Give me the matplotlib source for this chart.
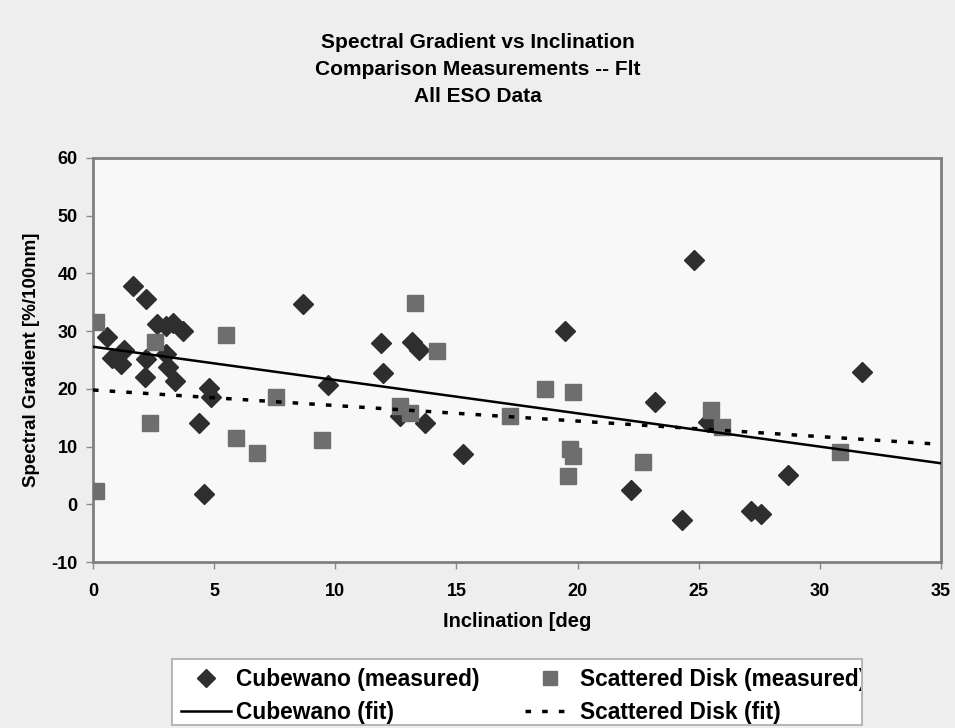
import numpy as np
import matplotlib.pyplot as plt
from matplotlib.patches import Rectangle
from matplotlib.transforms import Bbox, TransformedBbox

plt.rcParams['font.family'] = ['Liberation Sans', 'DejaVu Sans']
plt.rcParams['font.weight'] = 'bold'
plt.rcParams['axes.unicode_minus'] = False

# Cubewano (measured)
cub_inc = [1.67, 2.2, 2.63, 3.0, 3.3, 3.7, 0.59, 1.28, 0.8, 1.14, 2.18, 3.03, 3.08, 2.15,
           3.38, 4.8, 4.87, 4.36, 4.59, 8.66, 9.69, 11.87, 11.97, 13.18, 13.46, 12.66,
           13.7, 15.28, 19.5, 22.2, 24.82, 23.21, 31.72, 24.29, 25.38, 27.14, 27.55, 28.7]
cub_grad = [37.9, 35.6, 31.2, 30.9, 31.4, 30.0, 28.9, 26.8, 25.4, 24.3, 25.2, 26.1, 23.7, 22.1,
            21.4, 20.1, 18.6, 14.0, 1.7, 34.7, 20.6, 27.9, 22.8, 28.1, 26.7, 15.3,
            14.1, 8.8, 30.1, 2.5, 42.4, 17.8, 23.0, -2.8, 14.3, -1.2, -1.7, 5.0]

# Scattered Disk (measured)
sd_inc = [0.14, 2.57, 5.49, 2.36, 5.9, 6.76, 7.56, 9.45, 0.14, 13.28, 14.18, 12.66,
          13.07, 17.2, 18.66, 19.8, 19.7, 19.8, 19.6, 22.7, 25.5, 25.97, 30.82]
sd_grad = [31.5, 28.2, 29.3, 14.1, 11.5, 8.9, 18.6, 11.2, 2.3, 34.8, 26.5, 17.0,
           15.9, 15.3, 19.9, 19.5, 9.6, 8.3, 4.9, 7.3, 16.3, 13.4, 9.1]

# linear fits: intercept, slope
cub_fit = [27.3, -0.577]
sd_fit = [19.8, -0.269]

W, H = 955, 728
fig = plt.figure(figsize=(W / 100, H / 100), dpi=100, facecolor='#eeeeee')
ax = fig.add_axes([0.0974, 0.228, 0.888, 0.555], facecolor='#f8f8f8')

xs = np.array([0, 35])
h1, = ax.plot(cub_inc, cub_grad, ls='none', marker='D', ms=10, color='#2e2e2e',
              label='Cubewano (measured)', zorder=3)
h3, = ax.plot(sd_inc, sd_grad, ls='none', marker='s', ms=11, color='#6e6e6e',
              label='Scattered Disk (measured)', zorder=3)
h2, = ax.plot(xs, cub_fit[0] + cub_fit[1] * xs, color='black', lw=1.8,
              label='Cubewano (fit)', zorder=4)
h4, = ax.plot(xs, sd_fit[0] + sd_fit[1] * xs, color='black', lw=2.5, ls=(0, (1.6, 3.2)),
              label='Scattered Disk (fit)', zorder=4)

ax.set_xlim(0, 35)
ax.set_ylim(-10, 60)
ax.set_xticks(range(0, 36, 5))
ax.set_yticks(range(-10, 61, 10))
ax.tick_params(labelsize=13, length=5, width=1, color='#888888')
ax.tick_params(axis='x', pad=10)
ax.tick_params(axis='y', pad=6)
for s in ax.spines.values():
    s.set_color('#808080')
    s.set_linewidth(2)

ax.set_xlabel('Inclination [deg', fontsize=14.5, fontweight='bold', labelpad=9)
ax.set_ylabel('Spectral Gradient [%/100nm]', fontsize=13.5, fontweight='bold', labelpad=8)

fig.text(0.5, 0.942, 'Spectral Gradient vs Inclination', ha='center', va='center',
         fontsize=15, fontweight='bold')
fig.text(0.5, 0.904, 'Comparison Measurements -- Flt', ha='center', va='center',
         fontsize=15, fontweight='bold')
fig.text(0.5, 0.868, 'All ESO Data', ha='center', va='center',
         fontsize=15, fontweight='bold')

# legend box (fixed size, text clipped at right edge like the original)
bx0, by0, bx1, by1 = 172 / W, 3 / H, 862 / W, 69 / H
fig.patches.append(Rectangle((bx0, by0), bx1 - bx0, by1 - by0, transform=fig.transFigure,
                             facecolor='white', edgecolor='#aaaaaa', lw=1.2, zorder=1))

leg = fig.legend(handles=[h1, h2, h3, h4], ncol=2, loc='upper left',
                 bbox_to_anchor=(bx0, by1), frameon=False,
                 fontsize=16.4, borderaxespad=0, markerscale=0.88,
                 handlelength=2.2, handletextpad=0.2, labelspacing=0.45,
                 borderpad=0.4, columnspacing=2.0)
leg.set_zorder(2)
clip = TransformedBbox(Bbox([[bx0, by0], [bx1 - 1.5 / W, by1]]), fig.transFigure)
for t in leg.get_texts():
    t.set_clip_box(clip)
    t.set_clip_on(True)

fig.savefig('out.png', dpi=100, facecolor=fig.get_facecolor())
